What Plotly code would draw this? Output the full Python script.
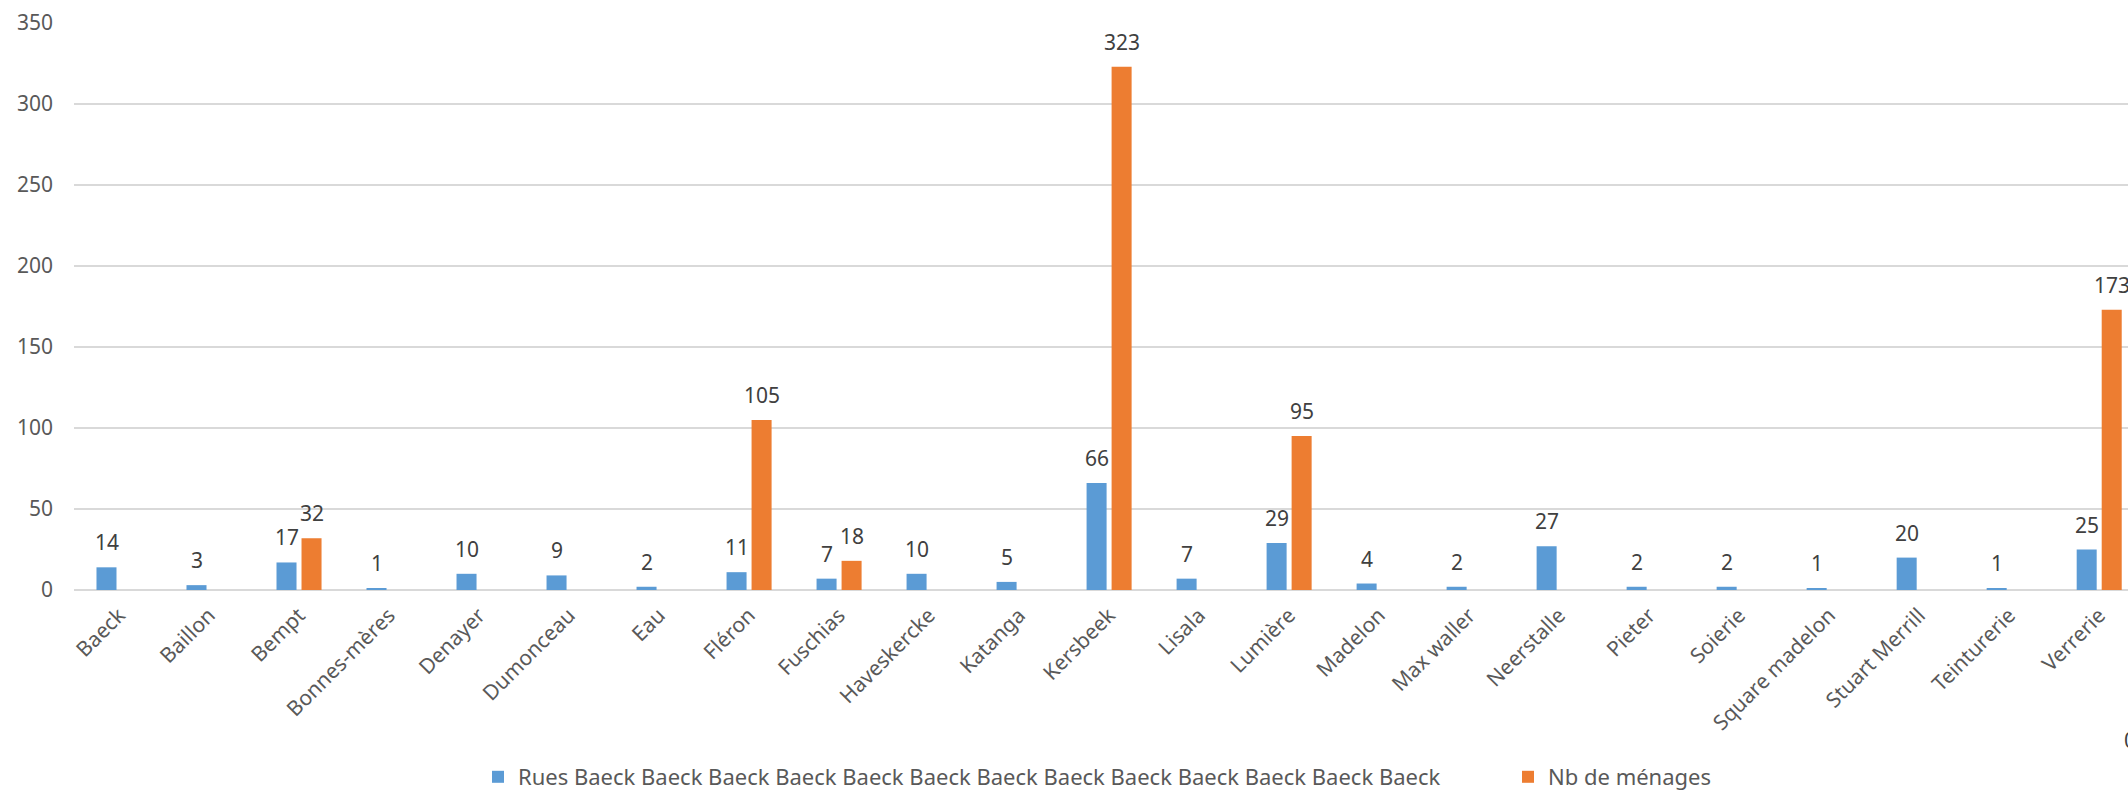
import plotly.graph_objects as go

categories = ["Baeck", "Baillon", "Bempt", "Bonnes-mères", "Denayer", "Dumonceau", "Eau",
              "Fléron", "Fuschias", "Haveskercke", "Katanga", "Kersbeek", "Lisala", "Lumière",
              "Madelon", "Max waller", "Neerstalle", "Pieter", "Soierie", "Square madelon",
              "Stuart Merrill", "Teinturerie", "Verrerie"]
rues_values = [14, 3, 17, 1, 10, 9, 2, 11, 7, 10, 5, 66, 7, 29, 4, 2, 27, 2, 2, 1, 20, 1, 25]
menages_values = [None, None, 32, None, None, None, None, 105, 18, None, None, 323, None, 95,
                  None, None, None, None, None, None, None, None, 173]
series_names = ["Rues Baeck Baeck Baeck Baeck Baeck Baeck Baeck Baeck Baeck Baeck Baeck Baeck Baeck",
                "Nb de ménages"]
y_ticks = [0, 50, 100, 150, 200, 250, 300, 350]

BLUE = "#5B9BD5"
ORANGE = "#ED7D31"
FONT = "Noto Sans"
W, H = 2128, 792
L, T, B = 74, 23, 202
PW, PH = W - L, H - T - B

fig = go.Figure()
fig.add_trace(go.Bar(x=categories, y=rues_values, name=series_names[0], legend="legend",
                     marker=dict(color=BLUE, line=dict(width=0))))
fig.add_trace(go.Bar(x=categories, y=menages_values, name=series_names[1], legend="legend2",
                     marker=dict(color=ORANGE, line=dict(width=0))))

annotations = []
for cat, v in zip(categories, rues_values):
    if v is not None:
        annotations.append(dict(x=cat, y=v, xref="x", yref="y", text=str(v), showarrow=False,
                                xshift=-12.5, yshift=9, yanchor="bottom",
                                font=dict(family=FONT, size=21, color="#404040")))
for cat, v in zip(categories, menages_values):
    if v is not None:
        annotations.append(dict(x=cat, y=v, xref="x", yref="y", text=str(v), showarrow=False,
                                xshift=12.5, yshift=9, yanchor="bottom",
                                font=dict(family=FONT, size=21, color="#404040")))
annotations.append(dict(x=(2122 - L) / PW, y=(590 - 740) / PH, xref="paper", yref="paper", text="0",
                        showarrow=False, xanchor="left", yanchor="middle",
                        font=dict(family=FONT, size=21, color="#404040")))

legend_common = dict(orientation="h", xanchor="left", yanchor="middle",
                     y=(590 - 777) / PH,
                     font=dict(family=FONT, size=22, color="#595959"),
                     bgcolor="rgba(0,0,0,0)")

fig.update_layout(
    width=W, height=H,
    margin=dict(l=L, r=0, t=T, b=B, autoexpand=False),
    paper_bgcolor="white", plot_bgcolor="white",
    barmode="group", bargap=0.444, bargroupgap=0.2,
    font=dict(family=FONT, size=21, color="#595959"),
    showlegend=True,
    legend=dict(x=(478 - L) / PW, **legend_common),
    legend2=dict(x=(1508 - L) / PW, **legend_common),
    annotations=annotations,
)
fig.update_xaxes(range=[-0.5, 22.32], tickangle=-45, showgrid=False, showline=False,
                 ticks="", automargin=False, tickfont=dict(family=FONT, size=21, color="#595959"),
                 ticklabelstandoff=8)
fig.update_yaxes(range=[0, 350], tickvals=y_ticks, showgrid=True, gridcolor="#d9d9d9",
                 gridwidth=1.5, zeroline=True, zerolinecolor="#d9d9d9", zerolinewidth=1.5,
                 showline=False, ticks="", automargin=False, ticklabelstandoff=20,
                 tickfont=dict(family=FONT, size=21, color="#595959"))

fig.write_html("out.html", config={"displayModeBar": False},
               post_script="document.body.style.margin='0';document.body.style.overflow='hidden';")
